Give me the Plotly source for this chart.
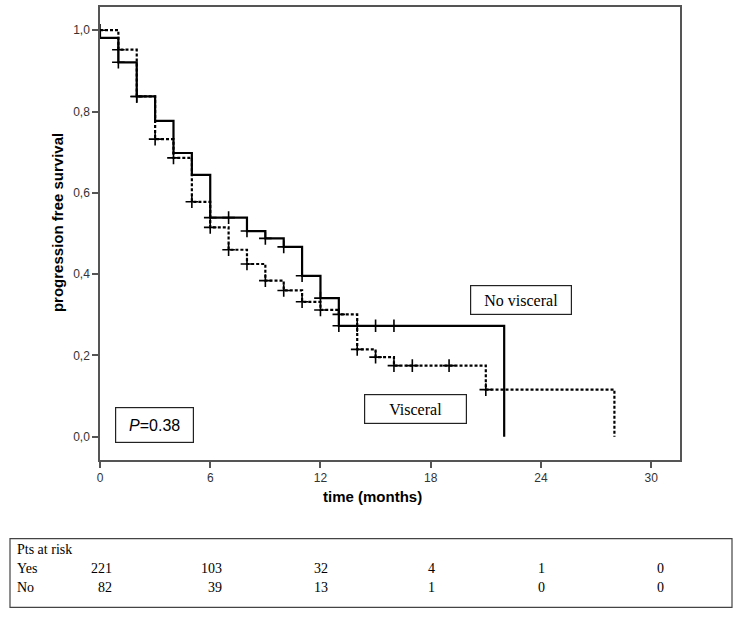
import plotly.graph_objects as go

# ---------------- data ----------------
# No visceral (solid line)
nv_times = [0, 0, 1, 2, 3, 4, 5, 6, 8, 9, 10, 11, 12, 13, 22]
nv_surv = [1.0, 0.981, 0.921, 0.837, 0.777, 0.698, 0.644, 0.539, 0.506, 0.488,
           0.467, 0.396, 0.341, 0.273, 0.0]
nv_censor = [1, 2, 6, 7, 8, 9, 10, 11, 12, 13, 14, 15, 16]

# Visceral (dashed line)
v_times = [0, 1, 2, 3, 4, 5, 6, 7, 8, 9, 10, 11, 12, 13, 14, 15, 16, 21, 28]
v_surv = [1.0, 0.952, 0.837, 0.732, 0.686, 0.578, 0.515, 0.460, 0.425, 0.384,
          0.360, 0.332, 0.312, 0.301, 0.215, 0.196, 0.175, 0.116, 0.0]
v_censor = [0, 1, 2, 3, 4, 5, 6, 7, 8, 9, 10, 11, 12, 13, 14, 15, 16, 17, 19, 21]

x_ticks = [0, 6, 12, 18, 24, 30]
y_ticks = [0.0, 0.2, 0.4, 0.6, 0.8, 1.0]
y_ticklabels = ["0,0", "0,2", "0,4", "0,6", "0,8", "1,0"]

risk_times = [0, 6, 12, 18, 24, 30]
risk_yes = [221, 103, 32, 4, 1, 0]
risk_no = [82, 39, 13, 1, 0, 0]
p_value = "0.38"


def surv_at(times, surv, t):
    idx = max(i for i, tt in enumerate(times) if tt <= t)
    return surv[idx]


# ---------------- layout geometry ----------------
W, H = 742, 617
ML, MR, MT, MB = 100, 62, 5, 157
PW, PH = W - ML - MR, H - MT - MB


def xp(px):
    return (px - ML) / PW


def yp(py):
    return (H - MB - py) / PH


fig = go.Figure()

fig.add_trace(go.Scatter(x=nv_times, y=nv_surv, mode="lines", line_shape="hv",
                         line=dict(color="black", width=2.2), showlegend=False))
fig.add_trace(go.Scatter(x=v_times, y=v_surv, mode="lines", line_shape="hv",
                         line=dict(color="black", width=2.2, dash="3px,2px"),
                         showlegend=False))

fig.add_trace(go.Scatter(x=nv_censor, y=[surv_at(nv_times, nv_surv, t) for t in nv_censor],
                         mode="markers",
                         marker=dict(symbol="cross-thin", size=9, color="black",
                                     line=dict(color="black", width=1.6)),
                         showlegend=False))
fig.add_trace(go.Scatter(x=v_censor, y=[surv_at(v_times, v_surv, t) for t in v_censor],
                         mode="markers",
                         marker=dict(symbol="cross-thin", size=9, color="black",
                                     line=dict(color="black", width=1.6)),
                         showlegend=False))

axis_common = dict(showline=True, linecolor="#555555", linewidth=1.5, mirror=True,
                   ticks="outside", ticklen=6, tickcolor="#555555", tickwidth=1.5,
                   showgrid=False, zeroline=False,
                   tickfont=dict(family="Liberation Sans, Arial", size=12, color="#333333"))

fig.update_xaxes(range=[0, 31.57], tickvals=x_ticks, **axis_common)
fig.update_yaxes(range=[-0.057, 1.057], tickvals=y_ticks, ticktext=y_ticklabels,
                 **axis_common)

annotations = []


def ann(text, x, y, xref="paper", xanchor="center", **kw):
    d = dict(text=text, xref=xref, yref="paper", x=x, y=y, showarrow=False,
             xanchor=xanchor, yanchor="middle")
    d.update(kw)
    annotations.append(d)


# axis titles
ann("<b>time (months)</b>", xp(372), yp(497),
    font=dict(family="Liberation Sans, Arial", size=15, color="black"))
ann("<b>progression free survival</b>", xp(57), yp(222), textangle=-90,
    font=dict(family="Liberation Sans, Arial", size=15, color="black"))

# boxed labels
box_font = dict(family="Liberation Serif, Times New Roman", size=16, color="black")
box_style = dict(bordercolor="#222222", borderwidth=1.2, borderpad=0, bgcolor="white")
ann("No visceral", xp(521), yp(299), width=100, height=28, font=box_font, **box_style)
ann("Visceral", xp(415), yp(409), width=101, height=28, font=box_font, **box_style)
ann("<i>P</i>=" + p_value, xp(154.5), yp(425), width=77, height=34,
    font=dict(family="Liberation Sans, Arial", size=16, color="black"), **box_style)

# risk table
tab_font = dict(family="Liberation Serif, Times New Roman", size=14, color="black")
row_y = {"head": 550, "yes": 569, "no": 588}
ann("Pts at risk", xp(15), yp(row_y["head"]), xanchor="left", font=tab_font)
ann("Yes", xp(15), yp(row_y["yes"]), xanchor="left", font=tab_font)
ann("No", xp(15), yp(row_y["no"]), xanchor="left", font=tab_font)
col_shift = [14, 14, 10, 6, 6, 15]
for i, t in enumerate(risk_times):
    ann(str(risk_yes[i]), t, yp(row_y["yes"]), xref="x", xanchor="right",
        xshift=col_shift[i], font=tab_font)
    ann(str(risk_no[i]), t, yp(row_y["no"]), xref="x", xanchor="right",
        xshift=col_shift[i], font=tab_font)

shapes = [dict(type="rect", xref="paper", yref="paper", x0=xp(10), x1=xp(732),
               y0=yp(539), y1=yp(608), line=dict(color="#444444", width=1.2))]

fig.update_layout(width=W, height=H, margin=dict(l=ML, r=MR, t=MT, b=MB),
                  plot_bgcolor="white", paper_bgcolor="white",
                  annotations=annotations, shapes=shapes, showlegend=False)

fig.write_html("out.html", config={"displayModeBar": False},
               post_script="document.body.style.margin='0px';document.body.style.padding='0px';")
